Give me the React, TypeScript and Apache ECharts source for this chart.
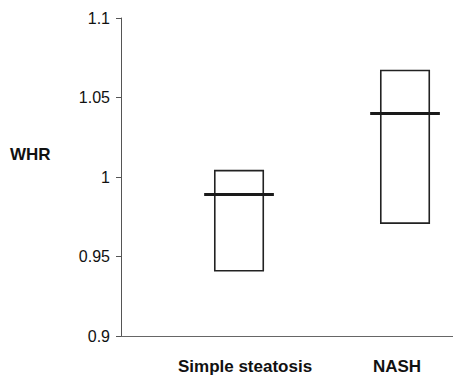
import React, { useEffect, useRef } from "react";
import * as echarts from "echarts";

const categories = ["Simple steatosis", "NASH"];
const lowerValues = [0.941, 0.971];
const upperValues = [1.004, 1.067];
const medianValues = [0.989, 1.04];
const yTicks = [0.9, 0.95, 1, 1.05, 1.1];

export default function App() {
  const ref = useRef<HTMLDivElement>(null);
  useEffect(() => {
    document.body.style.margin = "0";
    if (!ref.current) return;
    const chart = echarts.init(ref.current, null, { renderer: "svg" });
    const data = categories.map((c, i) => [i, lowerValues[i], upperValues[i], medianValues[i]]);
    const labelBase = { fontWeight: "bold", fontSize: 17, color: "#111" };
    chart.setOption({
      animation: false,
      backgroundColor: "#fff",
      textStyle: { fontFamily: "Liberation Sans, Arial, sans-serif" },
      grid: { left: 121, right: 0, top: 18, bottom: 41 },
      xAxis: {
        type: "value",
        min: -0.711,
        max: 1.289,
        splitLine: { show: false },
        axisTick: { show: false },
        axisLine: { onZero: false, lineStyle: { color: "#666", width: 1 } },
        axisLabel: {
          customValues: [0, 1],
          formatter: (v: number) => {
            const i = Math.round(v);
            const name = categories[i] ?? "";
            return i === 0 ? `{a|${name}}` : `{b|${name}}`;
          },
          fontWeight: "bold",
          fontSize: 17,
          color: "#111",
          margin: 22,
          rich: {
            a: { ...labelBase, padding: [0, 0, 0, 12] },
            b: { ...labelBase, padding: [0, 16, 0, 0] },
          },
        },
      },
      yAxis: {
        type: "value",
        min: 0.9,
        max: 1.1,
        interval: 0.05,
        splitLine: { show: false },
        axisLine: { show: true, onZero: false, lineStyle: { color: "#555", width: 1 } },
        axisTick: { show: true, length: 5, lineStyle: { color: "#555" } },
        axisLabel: {
          fontSize: 16,
          color: "#111",
          margin: 11,
          formatter: (v: number) => {
            const t = yTicks.find((y) => Math.abs(y - v) < 1e-6);
            return t === undefined ? "" : String(t);
          },
        },
      },
      graphic: [
        {
          type: "text",
          left: 10,
          top: 146,
          style: {
            text: "WHR",
            fontSize: 17,
            fontWeight: "bold",
            fill: "#111",
            fontFamily: "Liberation Sans, Arial, sans-serif",
          },
        },
      ],
      series: [
        {
          type: "custom",
          data,
          renderItem: (params: any, api: any) => {
            const x = api.value(0);
            const lo = api.value(1);
            const hi = api.value(2);
            const md = api.value(3);
            const pLo = api.coord([x, lo]);
            const pHi = api.coord([x, hi]);
            const pMd = api.coord([x, md]);
            const boxW = api.size([0.292, 0])[0];
            const medW = api.size([0.42, 0])[0];
            return {
              type: "group",
              children: [
                {
                  type: "rect",
                  shape: { x: pLo[0] - boxW / 2, y: pHi[1], width: boxW, height: pLo[1] - pHi[1] },
                  style: { fill: "none", stroke: "#222", lineWidth: 1.6 },
                },
                {
                  type: "line",
                  shape: { x1: pMd[0] - medW / 2, y1: pMd[1], x2: pMd[0] + medW / 2, y2: pMd[1] },
                  style: { stroke: "#1a1a1a", lineWidth: 3 },
                },
              ],
            };
          },
        },
      ],
    });
    return () => chart.dispose();
  }, []);
  return <div ref={ref} style={{ width: 453, height: 377 }} />;
}
